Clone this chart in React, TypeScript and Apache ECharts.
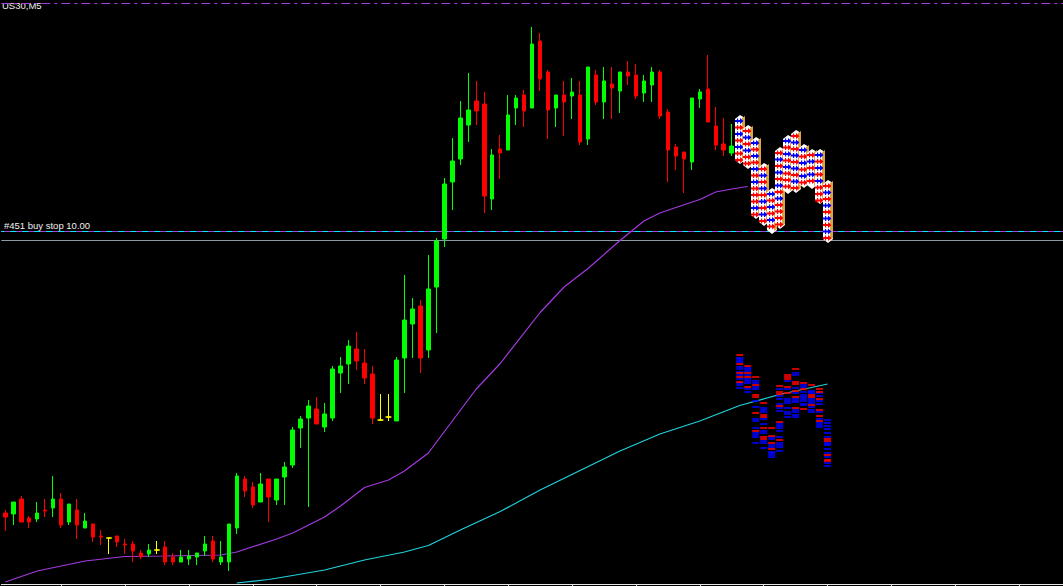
import React, { useEffect, useRef } from "react";
import * as echarts from "echarts";

// ---- DATA ----
const SLOT_COUNT = 133;
const categories = Array.from({ length: SLOT_COUNT }, (_, i) => String(i));

// [open, close, low, high]
const candles: number[][] = [
  [34071, 34067, 34053, 34074], [34070, 34082, 34059, 34082], [34085, 34062, 34062, 34088],
  [34066, 34062, 34056, 34068], [34065, 34071, 34062, 34082], [34074, 34073, 34067, 34085],
  [34076, 34085, 34067, 34108], [34085, 34059, 34056, 34091], [34062, 34080, 34059, 34080],
  [34074, 34059, 34045, 34085], [34056, 34063, 34056, 34071], [34060, 34047, 34042, 34060],
  [34048, 34047, 34039, 34054], [34046, 34046, 34030, 34046], [34048, 34042, 34037, 34048],
  [34040, 34039, 34030, 34045], [34040, 34033, 34022, 34043], [34031, 34027, 34025, 34034],
  [34030, 34034, 34027, 34040], [34034, 34034, 34030, 34043], [34037, 34022, 34019, 34043],
  [34027, 34022, 34019, 34031], [34022, 34027, 34022, 34034], [34025, 34028, 34019, 34034],
  [34027, 34031, 34019, 34031], [34033, 34040, 34028, 34048], [34043, 34025, 34022, 34048],
  [34022, 34027, 34019, 34043], [34022, 34060, 34013, 34060], [34056, 34108, 34050, 34111],
  [34105, 34093, 34087, 34108], [34097, 34079, 34076, 34102], [34082, 34100, 34082, 34111],
  [34105, 34087, 34062, 34105], [34084, 34105, 34079, 34105], [34107, 34117, 34079, 34122],
  [34119, 34154, 34116, 34157], [34156, 34165, 34136, 34168], [34166, 34178, 34077, 34184],
  [34175, 34160, 34160, 34187], [34157, 34170, 34152, 34181], [34166, 34215, 34163, 34218],
  [34211, 34218, 34191, 34227], [34220, 34238, 34200, 34244], [34235, 34223, 34214, 34252],
  [34221, 34206, 34200, 34235], [34210, 34166, 34160, 34218], [34164, 34164, 34163, 34190],
  [34167, 34167, 34163, 34190], [34163, 34224, 34163, 34227], [34226, 34264, 34191, 34309],
  [34260, 34275, 34226, 34286], [34278, 34226, 34211, 34284], [34234, 34295, 34226, 34329],
  [34297, 34343, 34251, 34346], [34345, 34400, 34337, 34406], [34402, 34423, 34374, 34446],
  [34425, 34466, 34419, 34483], [34459, 34474, 34442, 34511], [34483, 34473, 34459, 34503],
  [34480, 34388, 34371, 34492], [34385, 34429, 34374, 34435], [34435, 34431, 34405, 34449],
  [34434, 34469, 34434, 34489], [34476, 34486, 34459, 34489], [34489, 34473, 34457, 34494],
  [34476, 34540, 34476, 34557], [34543, 34505, 34493, 34551], [34512, 34474, 34445, 34514],
  [34476, 34489, 34457, 34489], [34489, 34482, 34448, 34503], [34488, 34492, 34465, 34506],
  [34489, 34442, 34439, 34503], [34445, 34517, 34439, 34517], [34509, 34482, 34479, 34514],
  [34482, 34503, 34465, 34517], [34500, 34496, 34465, 34517], [34493, 34512, 34471, 34512],
  [34512, 34508, 34499, 34523], [34509, 34488, 34485, 34520], [34491, 34503, 34482, 34509],
  [34499, 34512, 34482, 34517], [34512, 34468, 34465, 34514], [34472, 34434, 34402, 34475],
  [34437, 34428, 34414, 34440], [34432, 34425, 34391, 34432], [34422, 34486, 34414, 34486],
  [34485, 34492, 34476, 34495], [34495, 34462, 34462, 34529], [34458, 34439, 34434, 34477],
  [34440, 34434, 34428, 34466], [34431, 34438, 34428, 34460],
];
const dojiBars = [13, 19, 47, 48];

// moving averages: [bar index, value]
const maPurple: number[][] = [
  [0, 34002], [4, 34013], [10, 34023], [15, 34027.5], [20, 34028], [27, 34029], [29, 34032],
  [34, 34045], [36, 34051], [40, 34067], [42, 34078], [45, 34096.5], [48, 34104], [50, 34113],
  [53, 34131], [56, 34163], [59, 34195], [62, 34220.5], [67, 34271.5], [70, 34297],
  [73, 34315.5], [77, 34343.5], [80, 34363], [82, 34371], [84, 34376.5], [87, 34384.5],
  [89, 34392], [91, 34395], [93, 34397.5],
];
const maCyan: number[][] = [
  [29, 34001], [33, 34004.5], [36, 34008.5], [40, 34014], [45, 34024], [50, 34032],
  [53, 34038.5], [57, 34054], [62, 34072.5], [67, 34094], [72, 34113.5], [77, 34133],
  [82, 34150], [87, 34163], [92, 34178.5], [97, 34189.5], [103, 34200],
];

// trade arrow stacks: [bar index, top price, bottom price]
const arrowStacks: number[][] = [
  [92, 34469, 34421], [93, 34459, 34416], [94, 34447, 34366], [95, 34421, 34359],
  [96, 34396, 34351], [97, 34437, 34356], [98, 34449, 34391], [99, 34454, 34392],
  [100, 34440, 34397], [101, 34435, 34396], [102, 34435, 34381], [103, 34404, 34342],
];

const dashColumns = [92, 93, 94, 95, 96, 97, 98, 99, 100, 101, 102, 103];
const blueDashPrices: number[][] = [
  [34226, 34225, 34223, 34222, 34217, 34215, 34212, 34209, 34205, 34201, 34199, 34196],
  [34216, 34215, 34213, 34209, 34205, 34203, 34201, 34195, 34192],
  [34203, 34201, 34197, 34195, 34183, 34177, 34165, 34163, 34156, 34151, 34149, 34147, 34141],
  [34176, 34174, 34172, 34165, 34160, 34153, 34151, 34143, 34141, 34136],
  [34147, 34145, 34139, 34137, 34132, 34131, 34129, 34127],
  [34195, 34188, 34185, 34180, 34176, 34173, 34160, 34158, 34156, 34153, 34147, 34141, 34139, 34137, 34133],
  [34203, 34195, 34185, 34183, 34181, 34176, 34172, 34170, 34167],
  [34211, 34209, 34196, 34191, 34185, 34183, 34182, 34174, 34172, 34169, 34167],
  [34199, 34197, 34192, 34189, 34187, 34185, 34183, 34180, 34179],
  [34193, 34192, 34191, 34185, 34183, 34181, 34177, 34174, 34172],
  [34191, 34188, 34183, 34180, 34172, 34165, 34161, 34159, 34157],
  [34164, 34161, 34158, 34155, 34151, 34147, 34141, 34140, 34139, 34135, 34131, 34127, 34121, 34118],
];
const redDashPrices: number[][] = [
  [34229, 34220, 34211, 34207, 34202],
  [34218, 34211, 34207, 34197],
  [34207, 34199, 34189, 34187, 34171, 34153],
  [34181, 34169, 34167, 34156, 34147, 34145],
  [34156, 34148, 34141, 34135],
  [34198, 34192, 34190, 34178, 34162, 34144],
  [34209, 34207, 34205, 34197, 34191],
  [34215, 34202, 34200, 34193, 34187, 34176],
  [34201, 34195, 34175],
  [34199, 34189, 34187, 34179],
  [34195, 34192, 34185, 34174, 34168, 34163],
  [34145, 34143, 34129, 34124, 34123],
];

const topLevel = 34580.5;
const buyStopLevel = 34352.5;
const askLevel = 34343.5;
const priceMin = 34000;
const priceMax = 34584;

const symbolTitle = "US30,M5";
const orderLabel = "#451 buy stop 10.00";

// horizontal level drawn across the full plot on a hidden 0..1 x axis
function levelSeries(value: number, color: string, type: any, dashOffset = 0) {
  return {
    type: "line",
    xAxisIndex: 1,
    data: [[0, value], [1, value]],
    showSymbol: false,
    silent: true,
    z: 0,
    lineStyle: { color, width: 1, type, dashOffset },
  };
}

export default function App() {
  const ref = useRef<HTMLDivElement>(null);
  useEffect(() => {
    if (!ref.current) return;
    const chart = echarts.init(ref.current, undefined, { renderer: "svg" });

    const candleData = candles.map((c, i) =>
      dojiBars.includes(i)
        ? {
            value: c,
            itemStyle: { color: "#ffff00", color0: "#ffff00", borderColor: "#ffff00", borderColor0: "#ffff00" },
          }
        : c
    );
    const dojiTicks = dojiBars.map((i) => [i, candles[i][0]]);
    const toPairs = (arr: number[][]) =>
      arr.flatMap((prices, k) => prices.map((p) => [dashColumns[k], p]));

    const font = '9.5px "Liberation Sans", Arial, sans-serif';

    chart.setOption({
      animation: false,
      backgroundColor: "#000000",
      grid: { left: 1.3, top: 0, width: 1064, height: 584, containLabel: false },
      xAxis: [
        {
          type: "category",
          data: categories,
          boundaryGap: true,
          axisLine: { show: true, lineStyle: { color: "#e6e6e6", width: 1 } },
          axisTick: {
            show: true,
            alignWithLabel: true,
            interval: (idx: number) => idx % 8 === 7,
            length: 2,
            lineStyle: { color: "#e6e6e6" },
          },
          axisLabel: { show: false },
          splitLine: { show: false },
        },
        { type: "value", min: 0, max: 1, show: false, splitLine: { show: false } },
      ],
      yAxis: {
        type: "value",
        min: priceMin,
        max: priceMax,
        show: false,
        splitLine: { show: false },
      },
      series: [
        levelSeries(topLevel, "#a040e0", [9, 4, 3, 4]),
        levelSeries(buyStopLevel, "#a040e0", "solid"),
        levelSeries(buyStopLevel, "#00f0ff", [6, 6], 3),
        levelSeries(askLevel, "#8d99a6", "solid"),
        {
          type: "line",
          data: maPurple,
          showSymbol: false,
          silent: true,
          z: 1,
          lineStyle: { color: "#a33ae0", width: 1.2 },
        },
        {
          type: "line",
          data: maCyan,
          showSymbol: false,
          silent: true,
          z: 1,
          lineStyle: { color: "#1fd2dc", width: 1.2 },
        },
        {
          type: "candlestick",
          data: candleData,
          barWidth: 4,
          z: 3,
          silent: true,
          itemStyle: {
            color: "#00ff00",
            color0: "#ff0000",
            borderColor: "#00ff00",
            borderColor0: "#ff0000",
            borderWidth: 1,
          },
        },
        {
          type: "scatter",
          data: dojiTicks,
          symbol: "rect",
          symbolSize: [6, 1.5],
          silent: true,
          z: 4,
          itemStyle: { color: "#ffff00" },
        },
        {
          type: "scatter",
          data: toPairs(blueDashPrices),
          symbol: "rect",
          symbolSize: [7, 2],
          silent: true,
          z: 4,
          itemStyle: { color: "#0000ff" },
        },
        {
          type: "scatter",
          data: toPairs(redDashPrices),
          symbol: "rect",
          symbolSize: [7, 2],
          silent: true,
          z: 5,
          itemStyle: { color: "#ff0000" },
        },
        {
          type: "custom",
          data: arrowStacks,
          silent: true,
          z: 6,
          encode: { x: 0, y: [1, 2] },
          renderItem: (params: any, api: any) => {
            const idx = api.value(0);
            const top = api.coord([idx, api.value(1)]);
            const bot = api.coord([idx, api.value(2)]);
            const cx = Math.round(top[0]);
            const t = top[1];
            const b = bot[1];
            const children: any[] = [];
            children.push({
              type: "polygon",
              shape: {
                points: [
                  [cx - 5, t + 4], [cx, t], [cx + 5, t + 3], [cx + 5, b - 3], [cx, b + 1], [cx - 5, b - 3],
                ],
              },
              style: { fill: "#ffffff" },
            });
            children.push({
              type: "polygon",
              shape: { points: [[cx + 2, t + 3], [cx + 5, t + 1], [cx + 5, b - 4], [cx + 2, b - 2]] },
              style: { fill: "#d9a441" },
            });
            let k = 0;
            for (let y = t + 3; y < b - 5; y += 6.5, k++) {
              const red = (k + params.dataIndex) % 2 === 1 || ((y - t) / (b - t) > 0.6 && k % 3 !== 1);
              const col = red ? "#ff0000" : "#0000ff";
              children.push({
                type: "polygon",
                shape: {
                  points: [
                    [cx - 5, y + 2], [cx, y + 2], [cx, y], [cx + 3.5, y + 3], [cx, y + 6], [cx, y + 4], [cx - 5, y + 4],
                  ],
                },
                style: { fill: col },
              });
              children.push({
                type: "rect",
                shape: { x: cx - 3, y: y + 0.5, width: 1.2, height: 5 },
                style: { fill: col },
              });
            }
            return { type: "group", children };
          },
        },
      ],
      graphic: [
        {
          type: "text",
          x: 2,
          y: 0.5,
          silent: true,
          style: { text: symbolTitle, fill: "#f0f0f0", font, verticalAlign: "top" },
        },
        {
          type: "text",
          x: 4,
          y: 220.5,
          silent: true,
          style: { text: orderLabel, fill: "#f0f0f0", font, verticalAlign: "top" },
        },
      ],
    });
    return () => chart.dispose();
  }, []);
  return (
    <div
      ref={ref}
      style={{ position: "fixed", left: 0, top: 0, width: 1063, height: 586, background: "#000" }}
    />
  );
}
